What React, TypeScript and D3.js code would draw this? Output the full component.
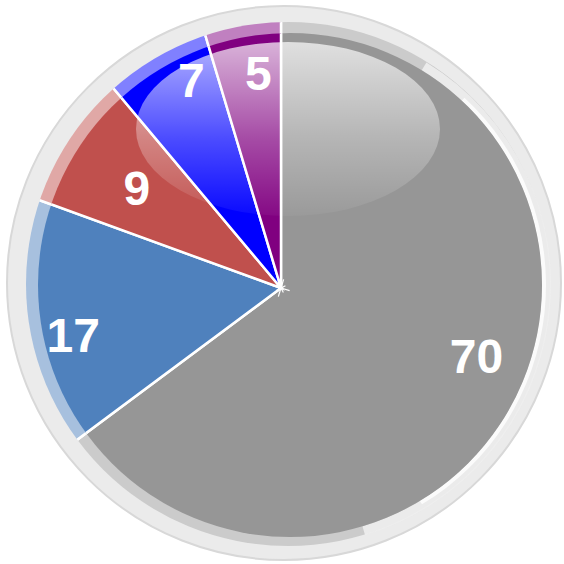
import React from 'react';
import * as d3 from 'd3';

// slice data, clockwise from 12 o'clock
const categories = ['A', 'B', 'C', 'D', 'E'];
const values = [70, 17, 9, 7, 5];
const colors = ['#969696', '#4f81bd', '#c0504d', '#0000ff', '#800080'];

const W = 564;
const H = 564;
// the wedges meet a little off the disc centre, as in the original 3D-ish look
const apex = { x: 281, y: 288 };
const disc = { x: 290, y: 285, r: 252 };
const band = { x: 288, y: 284, r: 262 };
const ring = { x: 284, y: 283, r: 277 };
const labelR = 212;
// hand nudges so labels sit where the original put them
const labelNudge = { A: [6, -27], B: [2, 17], C: [0, 1], D: [11, -21], E: [8, -5] };

const App = () => {
  const pie = d3.pie<number>().sort(null).startAngle(0).endAngle(2 * Math.PI);
  const slices = pie(values);
  const wedge = d3.arc<d3.PieArcDatum<number>>().innerRadius(0).outerRadius(420);
  const light = colors.map(c => d3.interpolateRgb(c, '#ffffff')(0.5));

  const labelPos = (d, i) => {
    const mid = (d.startAngle + d.endAngle) / 2;
    const n = labelNudge[categories[i]];
    const r = categories[i] === 'C' ? 176 : labelR;
    return [apex.x + r * Math.sin(mid) + n[0], apex.y - r * Math.cos(mid) + n[1]];
  };

  // pale glint over the band on the right side of the disc
  const glintSoft = d3.arc()({
    innerRadius: disc.r,
    outerRadius: disc.r + 9,
    startAngle: 0.55,
    endAngle: 2.85,
    cornerRadius: 4
  });
  const glint = d3.arc()({
    innerRadius: disc.r,
    outerRadius: disc.r + 4,
    startAngle: 0.75,
    endAngle: 2.6,
    cornerRadius: 2
  });

  const sparkle = d3.range(8).map(k => (k * Math.PI) / 4 + 0.3);

  return (
    <svg width={W} height={H} style={{ position: 'absolute', left: 0, top: 0, background: '#fff' }}>
      <defs>
        <clipPath id="clipDisc">
          <circle cx={disc.x} cy={disc.y} r={disc.r} />
        </clipPath>
        <clipPath id="clipBand">
          <circle cx={band.x} cy={band.y} r={band.r} />
        </clipPath>
        <linearGradient id="shine" x1="0" y1="0" x2="0" y2="1">
          <stop offset="0%" stopColor="#fff" stopOpacity={0.7} />
          <stop offset="55%" stopColor="#fff" stopOpacity={0.3} />
          <stop offset="100%" stopColor="#fff" stopOpacity={0.04} />
        </linearGradient>
      </defs>

      <circle cx={ring.x} cy={ring.y} r={ring.r} fill="#ebebeb" stroke="#d8d8d8" strokeWidth={2} />

      <g clipPath="url(#clipBand)">
        <g transform={`translate(${apex.x},${apex.y})`}>
          {slices.map((d, i) => (
            <path key={'b' + i} d={wedge(d)} fill={light[i]} stroke="#fff" strokeWidth={2.5} />
          ))}
        </g>
      </g>

      <g transform={`translate(${disc.x},${disc.y})`}>
        <path d={glintSoft} fill="#eeeeee" opacity={0.9} />
        <path d={glint} fill="#fbfbfb" />
      </g>

      <g clipPath="url(#clipDisc)">
        <g transform={`translate(${apex.x},${apex.y})`}>
          {slices.map((d, i) => (
            <path key={'m' + i} d={wedge(d)} fill={colors[i]} stroke="#fff" strokeWidth={2.5} />
          ))}
        </g>
        <ellipse cx={288} cy={129} rx={152} ry={87} fill="url(#shine)" />
      </g>

      <g transform={`translate(${apex.x},${apex.y})`} stroke="#fff" strokeWidth={1.2}>
        {sparkle.map((a, k) => (
          <line key={k} x1={0} y1={0} x2={(k % 2 ? 5 : 9) * Math.cos(a)} y2={(k % 2 ? 5 : 9) * Math.sin(a)} />
        ))}
      </g>

      {slices.map((d, i) => {
        const [x, y] = labelPos(d, i);
        return (
          <text
            key={'t' + i}
            x={x}
            y={y}
            textAnchor="middle"
            dominantBaseline="central"
            fill="#fff"
            style={{ fontFamily: 'Liberation Sans, Arial, sans-serif', fontWeight: 'bold', fontSize: 48 }}
          >
            {values[i]}
          </text>
        );
      })}
    </svg>
  );
};

export default App;
